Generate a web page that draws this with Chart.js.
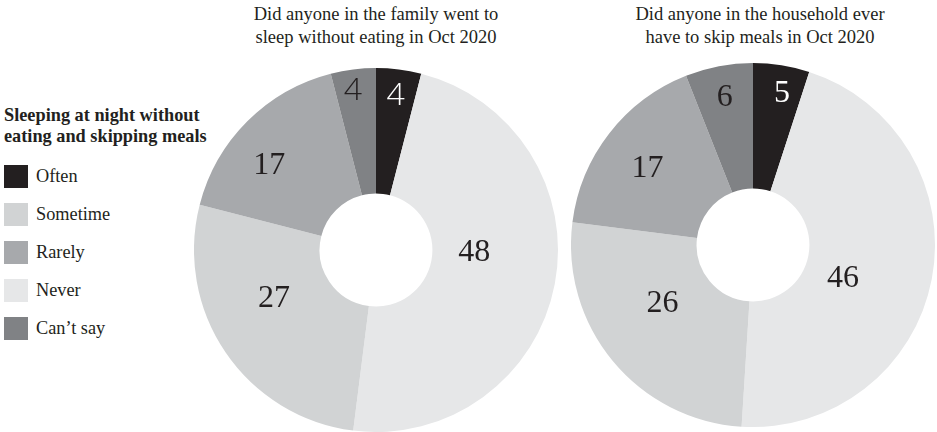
<!DOCTYPE html>
<html lang="en">
<head>
<meta charset="utf-8">
<title>Sleeping at night without eating and skipping meals</title>
<script src="https://cdn.jsdelivr.net/npm/chart.js@4.4.0/dist/chart.umd.min.js"></script>
<style>
body{margin:0;width:937px;height:432px;overflow:hidden;background:#fff;color:#231f20;
  font-family:"Liberation Serif","Times New Roman",serif;position:relative}
.title{position:absolute;top:3px;width:320px;text-align:center;font-size:18.5px;line-height:22.5px}
.pie{position:absolute;width:364px;height:364px}
#legend{position:absolute;left:4px;top:105px}
#legend h3{margin:0 0 18px;font-size:18.3px;line-height:21px;font-weight:bold}
#legend .row{display:flex;align-items:center;height:23px;margin-bottom:15px;font-size:18.3px}
#legend .sw{width:24px;height:23px;margin-right:8px}
</style>
</head>
<body>

<div class="title" style="left:216px">Did anyone in the family went to<br>sleep without eating in Oct 2020</div>
<div class="title" style="left:600px">Did anyone in the household ever<br>have to skip meals in Oct 2020</div>

<div id="legend"><h3>Sleeping at night without<br>eating and skipping meals</h3></div>

<div class="pie" style="left:194px;top:68px"><canvas id="pie1"></canvas></div>
<div class="pie" style="left:571px;top:63px"><canvas id="pie2"></canvas></div>

<script>
// slice order round the ring, clockwise from the top
const categories  = ['Often','Never','Sometime','Rarely','Can\u2019t say'];
const sleepValues = [4, 48, 27, 17, 4];
const skipValues  = [5, 46, 26, 17, 6];
// legend order
const legendOrder = ['Often','Sometime','Rarely','Never','Can\u2019t say'];

const colors = {
  'Often':'#231f20', 'Never':'#e6e7e8', 'Sometime':'#d1d3d4',
  'Rarely':'#a7a9ac', 'Can\u2019t say':'#808285'
};
const labelColors = {'Often':'#ffffff'};

const serifFont = '32px "Liberation Serif", serif';
const sansFont  = '300 32px "Open Sans", "DejaVu Sans", sans-serif';

// where each value label sits: fraction of outer radius, angle nudge in degrees
const sleepLabelPos = {r:[0.86,0.54,0.62,0.75,0.89], da:[0,-9.6,9,-6.5,-1],
  font:[sansFont,serifFont,serifFont,serifFont,sansFont]};
const skipLabelPos  = {r:[0.855,0.525,0.59,0.72,0.83], da:[1.7,9,7,-1.4,0],
  font:[serifFont,serifFont,serifFont,serifFont,serifFont]};

/* legend */
const legend = document.getElementById('legend');
legendOrder.forEach(name=>{
  const row = document.createElement('div');
  row.className = 'row';
  row.innerHTML = `<span class="sw" style="background:${colors[name]}"></span><span>${name}</span>`;
  legend.appendChild(row);
});

/* value labels inside each slice */
const sliceLabels = {
  id:'sliceLabels',
  afterDatasetsDraw(chart, args, opts){
    const {ctx} = chart;
    const ds = chart.data.datasets[0];
    chart.getDatasetMeta(0).data.forEach((arc,i)=>{
      const {x,y,startAngle,endAngle,outerRadius} = arc.getProps(['x','y','startAngle','endAngle','outerRadius'],true);
      const a = (startAngle+endAngle)/2 + opts.pos.da[i]*Math.PI/180;
      const r = outerRadius*opts.pos.r[i];
      ctx.save();
      ctx.font = opts.pos.font[i];
      ctx.fillStyle = labelColors[chart.data.labels[i]] || '#231f20';
      ctx.textAlign = 'center';
      ctx.textBaseline = 'middle';
      ctx.fillText(String(ds.data[i]), x+Math.cos(a)*r, y+Math.sin(a)*r+1);
      ctx.restore();
    });
  }
};

function makePie(id, values, pos){
  return new Chart(document.getElementById(id),{
    type:'doughnut',
    data:{
      labels:categories,
      datasets:[{
        data:values,
        backgroundColor:categories.map(c=>colors[c]),
        borderWidth:0
      }]
    },
    options:{
      responsive:true,
      maintainAspectRatio:false,
      animation:false,
      cutout:'31%',
      layout:{padding:0},
      events:[],
      plugins:{
        legend:{display:false},
        tooltip:{enabled:false},
        sliceLabels:{pos}
      }
    },
    plugins:[sliceLabels]
  });
}

makePie('pie1', sleepValues, sleepLabelPos);
makePie('pie2', skipValues, skipLabelPos);
</script>
</body>
</html>
